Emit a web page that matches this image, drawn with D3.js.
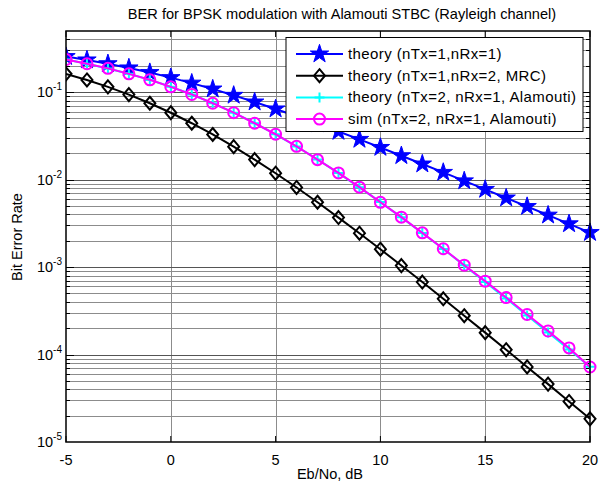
<!DOCTYPE html>
<html><head><meta charset="utf-8">
<script src="https://cdn.jsdelivr.net/npm/d3@7"></script>
<style>body{margin:0;background:#fff}svg{display:block}text{font-family:"Liberation Sans",Arial,sans-serif}</style>
</head><body>
<script>
const ebno = [-5,-4,-3,-2,-1,0,1,2,3,4,5,6,7,8,9,10,11,12,13,14,15,16,17,18,19,20];
const berTheory1 = [0.2549,0.2332,0.2111,0.1890,0.1673,0.1465,0.1267,0.1085,0.0919,0.0771,0.0642,0.0530,0.0435,0.0355,0.0288,0.0233,0.01875,0.01507,0.01208,0.00967,0.00772,0.00616,0.00492,0.00392,0.00312,0.00248];
const berMRC = [0.1618,0.1378,0.1149,0.0937,0.0746,0.0581,0.0441,0.0328,0.0238,0.01693,0.01183,0.00813,0.00551,0.00368,0.00244,0.00160,0.00104,0.000674,0.000434,0.000278,0.000178,0.0001135,7.22e-5,4.59e-5,2.91e-5,1.84e-5];
const berAlamouti = [0.2355,0.2113,0.1867,0.1621,0.1380,0.1151,0.0939,0.0748,0.0582,0.0442,0.0329,0.0239,0.0170,0.01188,0.00816,0.00553,0.00370,0.00245,0.00161,0.001046,0.000677,0.000436,0.000280,0.000179,0.000114,7.26e-5];
const berSim = [0.2360,0.2110,0.1870,0.1618,0.1383,0.1149,0.0941,0.0746,0.0583,0.0441,0.0330,0.0240,0.0169,0.01192,0.00820,0.00550,0.00372,0.00246,0.00162,0.00105,0.000690,0.000448,0.000287,0.000186,0.000119,7.2e-5];
const xTicks = [-5,0,5,10,15,20];
const yTicks = [1e-5,1e-4,1e-3,1e-2,1e-1];
const legendLabels = ["theory (nTx=1,nRx=1)","theory (nTx=1,nRx=2, MRC)","theory (nTx=2, nRx=1, Alamouti)","sim (nTx=2, nRx=1, Alamouti)"];
const titleText = "BER for BPSK modulation with Alamouti STBC (Rayleigh channel)";

const W=606,H=486, L=66,R=590,T=31,B=442;
const svg=d3.select("body").append("svg").attr("width",W).attr("height",H);
const x=d3.scaleLinear().domain([-5,20]).range([L,R]);
const y=d3.scaleLog().domain([1e-5,0.5]).range([B,T]);

// grid
const g=svg.append("g");
xTicks.slice(1,-1).forEach(v=>g.append("line").attr("x1",Math.round(x(v))+0.5).attr("x2",Math.round(x(v))+0.5).attr("y1",T).attr("y2",B).attr("stroke","#8c8c8c").attr("stroke-width",1));
const minor=[];
for(let e=-5;e<=-1;e++){for(let m=1;m<=9;m++){const v=m*Math.pow(10,e); if(v>1e-5&&v<0.5) minor.push(v);}}
minor.forEach(v=>{const isMaj=Math.abs(Math.log10(v)-Math.round(Math.log10(v)))<1e-9;
  const yy=Math.round(y(v))+0.5;
  g.append("line").attr("x1",L).attr("x2",R).attr("y1",yy).attr("y2",yy).attr("stroke",isMaj?"#555":"#8c8c8c").attr("stroke-width",1);
  const tl=isMaj?8:4;
  g.append("line").attr("x1",L).attr("x2",L+tl).attr("y1",yy).attr("y2",yy).attr("stroke","#000");
  g.append("line").attr("x1",R-tl).attr("x2",R).attr("y1",yy).attr("y2",yy).attr("stroke","#000");
});

svg.append("defs").append("clipPath").attr("id","clip").append("rect").attr("x",L).attr("y",0).attr("width",W-L).attr("height",H);
const plot=svg.append("g").attr("clip-path","url(#clip)");
const line=d3.line().x((d,i)=>x(ebno[i])).y(d=>y(d));

const series=[
 {data:berTheory1,color:"#0000ff",marker:"star"},
 {data:berMRC,color:"#000000",marker:"diamond"},
 {data:berAlamouti,color:"#00ffff",marker:"plus"},
 {data:berSim,color:"#ff00ff",marker:"circle"}
];
function drawMarker(sel,type,color,cx,cy){
  if(type==="star") sel.append("path").attr("d",d3.symbol(d3.symbolStar,105)()).attr("transform",`translate(${cx},${cy})`).attr("fill",color).attr("stroke",color).attr("stroke-width",1);
  else if(type==="diamond") sel.append("path").attr("d",`M0,-6.5L5.5,0L0,6.5L-5.5,0Z`).attr("transform",`translate(${cx},${cy})`).attr("fill","none").attr("stroke",color).attr("stroke-width",2);
  else if(type==="plus") sel.append("path").attr("d",`M-5,0H5M0,-5V5`).attr("transform",`translate(${cx},${cy})`).attr("fill","none").attr("stroke",color).attr("stroke-width",2);
  else sel.append("circle").attr("cx",cx).attr("cy",cy).attr("r",5.5).attr("fill","none").attr("stroke",color).attr("stroke-width",2);
}
series.forEach(s=>{
  plot.append("path").datum(s.data).attr("d",line).attr("fill","none").attr("stroke",s.color).attr("stroke-width",2);
  s.data.forEach((d,i)=>drawMarker(plot,s.marker,s.color,x(ebno[i]),y(d)));
});

// axes box
svg.append("rect").attr("x",L).attr("y",T).attr("width",R-L).attr("height",B-T).attr("fill","none").attr("stroke","#000").attr("stroke-width",1.5);
// x tick labels
xTicks.forEach(v=>{
  svg.append("text").attr("x",x(v)).attr("y",B+23).attr("text-anchor","middle").attr("font-size",14.5).text(v);
  svg.append("line").attr("x1",x(v)).attr("x2",x(v)).attr("y1",B).attr("y2",B-6).attr("stroke","#000");
  svg.append("line").attr("x1",x(v)).attr("x2",x(v)).attr("y1",T).attr("y2",T+6).attr("stroke","#000");
});
// y tick labels
yTicks.forEach(v=>{
  const e=Math.round(Math.log10(v));
  const t=svg.append("text").attr("x",L-4).attr("y",y(v)+5).attr("text-anchor","end").attr("font-size",14.5);
  t.append("tspan").text("10");
  t.append("tspan").attr("dy",-7).attr("font-size",10).text(String(e));
});
svg.append("text").attr("x",330).attr("y",479).attr("text-anchor","middle").attr("font-size",14.5).text("Eb/No, dB");
svg.append("text").attr("transform","translate(22,237) rotate(-90)").attr("text-anchor","middle").attr("font-size",14.5).text("Bit Error Rate");
svg.append("text").attr("x",342).attr("y",19).attr("text-anchor","middle").attr("font-size",14.6).text(titleText);

// legend
const lg=svg.append("g");
lg.append("rect").attr("x",286).attr("y",37.5).attr("width",297).attr("height",94).attr("fill","#fff").attr("stroke","#000").attr("stroke-width",1);
legendLabels.forEach((lab,i)=>{
  const cy=54+i*21.7;
  lg.append("line").attr("x1",296).attr("x2",343).attr("y1",cy).attr("y2",cy).attr("stroke",series[i].color).attr("stroke-width",2);
  drawMarker(lg,series[i].marker,series[i].color,319.5,cy);
  lg.append("text").attr("x",348).attr("y",cy+5).attr("font-size",15).attr("letter-spacing",0.4).text(lab);
});
</script>
</body></html>
